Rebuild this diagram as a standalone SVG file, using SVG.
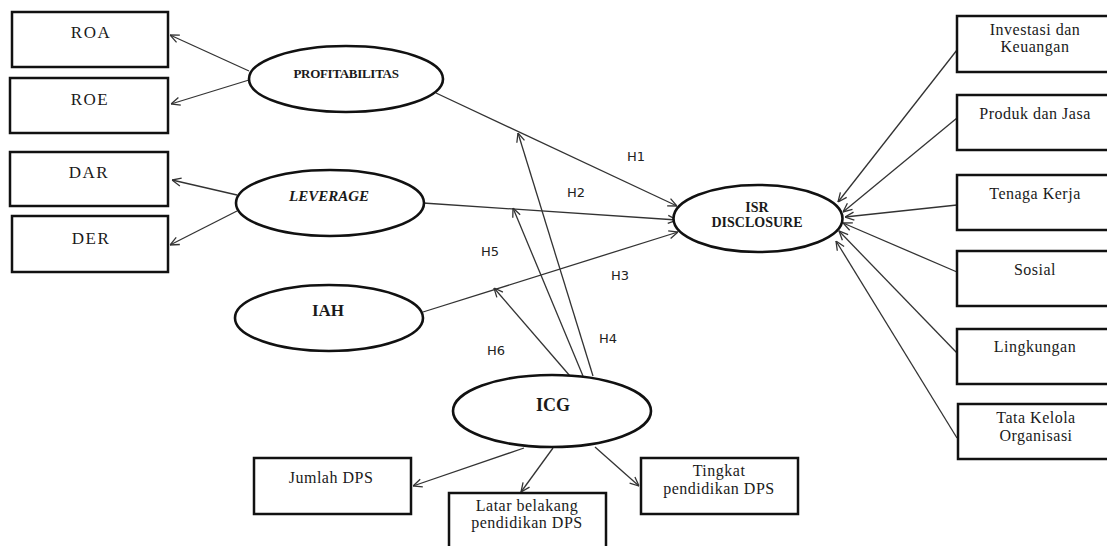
<svg xmlns="http://www.w3.org/2000/svg" width="1107" height="546" viewBox="0 0 1107 546">
<defs>
<style>
.box{fill:#fff;stroke:#111;stroke-width:2.5}
.ell{fill:#fff;stroke:#111;stroke-width:2.6}
.c{fill:none;stroke:#333;stroke-width:1.3}
.t{font-family:"Liberation Serif","Times New Roman",serif;font-size:16px;fill:#1a1a1a;text-anchor:middle;letter-spacing:0.5px}
.tl{font-family:"Liberation Serif","Times New Roman",serif;font-size:17px;fill:#1a1a1a;text-anchor:middle;letter-spacing:1.5px}
.b{font-family:"Liberation Serif","Times New Roman",serif;font-weight:bold;fill:#1a1a1a;text-anchor:middle}
.h{font-family:"DejaVu Sans",Verdana,sans-serif;font-size:13px;fill:#222;text-anchor:middle}
</style>
<marker id="ah" viewBox="0 0 10 10" refX="10" refY="5" markerWidth="10" markerHeight="10" orient="auto" markerUnits="userSpaceOnUse">
<path d="M1,1 L10,5 L1,9" fill="none" stroke="#333" stroke-width="1.3"/>
</marker>
</defs>
<rect width="1107" height="546" fill="#fff"/>

<g id="connectors">
<line class="c" x1="249" y1="71" x2="170" y2="35" marker-end="url(#ah)"/>
<line class="c" x1="249" y1="80" x2="171" y2="104" marker-end="url(#ah)"/>
<line class="c" x1="237" y1="195" x2="172" y2="180" marker-end="url(#ah)"/>
<line class="c" x1="237" y1="211" x2="170" y2="245" marker-end="url(#ah)"/>
<line class="c" x1="436" y1="93" x2="677" y2="206" marker-end="url(#ah)"/>
<line class="c" x1="423" y1="203" x2="677" y2="220" marker-end="url(#ah)"/>
<line class="c" x1="423" y1="312" x2="678" y2="232" marker-end="url(#ah)"/>
<line class="c" x1="593" y1="376" x2="518" y2="133" marker-end="url(#ah)"/>
<line class="c" x1="583" y1="376" x2="513" y2="208" marker-end="url(#ah)"/>
<line class="c" x1="570" y1="376" x2="494" y2="288" marker-end="url(#ah)"/>
<line class="c" x1="524" y1="448" x2="413" y2="486" marker-end="url(#ah)"/>
<line class="c" x1="553" y1="448" x2="521" y2="492" marker-end="url(#ah)"/>
<line class="c" x1="595" y1="447" x2="639" y2="486" marker-end="url(#ah)"/>
<line class="c" x1="957" y1="50" x2="838" y2="202" marker-end="url(#ah)"/>
<line class="c" x1="957" y1="118" x2="843" y2="212" marker-end="url(#ah)"/>
<line class="c" x1="957" y1="205" x2="845" y2="217" marker-end="url(#ah)"/>
<line class="c" x1="957" y1="272" x2="843" y2="223" marker-end="url(#ah)"/>
<line class="c" x1="957" y1="353" x2="839" y2="231" marker-end="url(#ah)"/>
<line class="c" x1="957" y1="438" x2="836" y2="241" marker-end="url(#ah)"/>
<text class="h" x="636" y="161">H1</text>
<text class="h" x="576" y="197">H2</text>
<text class="h" x="490" y="256">H5</text>
<text class="h" x="620" y="280">H3</text>
<text class="h" x="608" y="343">H4</text>
<text class="h" x="496" y="355">H6</text>
</g>

<g id="roa"><rect class="box" x="12" y="12" width="156" height="55"/><text class="tl" x="91" y="38">ROA</text></g>
<g id="roe"><rect class="box" x="10" y="78" width="158" height="55"/><text class="tl" x="90" y="105">ROE</text></g>
<g id="dar"><rect class="box" x="10" y="152" width="158" height="54"/><text class="tl" x="89" y="178">DAR</text></g>
<g id="der"><rect class="box" x="12" y="216" width="156" height="56"/><text class="tl" x="91" y="244">DER</text></g>

<g id="profitabilitas"><ellipse class="ell" cx="346" cy="79" rx="97" ry="33"/><text class="b" x="346" y="78" font-size="13" letter-spacing="-0.3">PROFITABILITAS</text></g>
<g id="leverage"><ellipse class="ell" cx="330" cy="203" rx="94" ry="33"/><text class="b" x="329" y="201" font-size="15" font-style="italic">LEVERAGE</text></g>
<g id="iah"><ellipse class="ell" cx="329" cy="318" rx="94" ry="33"/><text class="b" x="328" y="316" font-size="17">IAH</text></g>
<g id="icg"><ellipse class="ell" cx="552" cy="411" rx="99" ry="36"/><text class="b" x="553" y="411" font-size="18">ICG</text></g>
<g id="isr"><ellipse class="ell" cx="758" cy="218.5" rx="84.5" ry="33.5"/><text class="b" x="757" y="212" font-size="14">ISR</text><text class="b" x="757" y="227" font-size="14">DISCLOSURE</text></g>

<g id="jumlah"><rect class="box" x="254" y="458" width="157" height="56"/><text class="t" x="331" y="483">Jumlah DPS</text></g>
<g id="latar"><rect class="box" x="449" y="493" width="157" height="70"/><text class="t" x="527" y="511">Latar belakang</text><text class="t" x="527" y="528">pendidikan DPS</text></g>
<g id="tingkat"><rect class="box" x="641" y="458" width="157" height="56"/><text class="t" x="719" y="476">Tingkat</text><text class="t" x="719" y="494">pendidikan DPS</text></g>

<g id="investasi"><rect class="box" x="957" y="16" width="160" height="56"/><text class="t" x="1035" y="35">Investasi dan</text><text class="t" x="1035" y="52">Keuangan</text></g>
<g id="produk"><rect class="box" x="957" y="95" width="160" height="55"/><text class="t" x="1035" y="119">Produk dan Jasa</text></g>
<g id="tenaga"><rect class="box" x="957" y="175" width="160" height="55"/><text class="t" x="1035" y="199">Tenaga Kerja</text></g>
<g id="sosial"><rect class="box" x="957" y="251" width="160" height="55"/><text class="t" x="1035" y="275">Sosial</text></g>
<g id="lingkungan"><rect class="box" x="957" y="329" width="160" height="55"/><text class="t" x="1035" y="352">Lingkungan</text></g>
<g id="tatakelola"><rect class="box" x="958" y="404" width="160" height="55"/><text class="t" x="1036" y="423">Tata Kelola</text><text class="t" x="1036" y="441">Organisasi</text></g>
</svg>
